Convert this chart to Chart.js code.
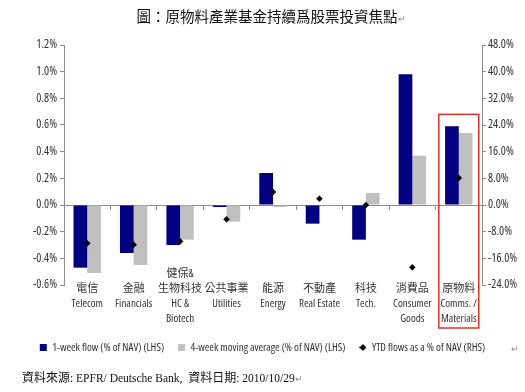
<!DOCTYPE html>
<html>
<head>
<meta charset="utf-8">
<script src="https://cdn.jsdelivr.net/npm/chart.js@4.4.0/dist/chart.umd.min.js"></script>
<style>
  body { margin: 0; background: #fff; }
  #wrap { position: relative; width: 525px; height: 392px; overflow: hidden; }
  #chart { position: absolute; left: 0; top: 0; }
  .title { position: absolute; left: 0; width: 542px; top: 5px; text-align: center;
           font: 14.5px "Noto Sans CJK TC", sans-serif; color: #111; }
  .footer { position: absolute; left: 22px; top: 368px;
            font: 12px "Noto Sans CJK TC", serif; color: #111; }
  .footer .lat { font: 11.5px "Liberation Serif", serif; }
  .mark { font-size: 9px; color: #888; }
  .mark2 { position: absolute; left: 511px; top: 344px; font-size: 9px; color: #888; }
</style>
</head>
<body>
<div id="wrap">
  <canvas id="chart" width="525" height="392"></canvas>
  <div class="title">圖：原物料產業基金持續爲股票投資焦點<span class="mark">↵</span></div>
  <div class="mark2">↵</div>
  <div class="footer">資料來源<span class="lat">: EPFR/ Deutsche Bank,&nbsp; </span>資料日期<span class="lat">: 2010/10/29</span><span class="mark">↵</span></div>
</div>
<script>
// sector labels (Chinese / English), first line left empty unless needed
const categories = [
    ['', '電信', 'Telecom'],
    ['', '金融', 'Financials'],
    ['健保&', '生物科技', 'HC &', 'Biotech'],
    ['', '公共事業', 'Utilities'],
    ['', '能源', 'Energy'],
    ['', '不動產', 'Real Estate'],
    ['', '科技', 'Tech.'],
    ['', '消費品', 'Consumer', 'Goods'],
    ['', '原物料', 'Comms. /', 'Materials']
];

// % of NAV (LHS)
const weekFlow = [-0.47, -0.36, -0.30, -0.015, 0.24, -0.14, -0.26, 0.98, 0.59];
const fourWeekAvg = [-0.51, -0.45, -0.26, -0.125, -0.015, -0.005, 0.09, 0.37, 0.54];
// YTD flows % of NAV (RHS)
const ytdFlows = [-11.5, -11.9, -10.9, -4.3, 3.9, 1.9, 0.0, -18.7, 8.1];

const seriesNames = [
    '1-week flow (% of NAV) (LHS)',
    '4-week moving average (% of NAV) (LHS)',
    'YTD flows as a % of NAV (RHS)'
];

const highlightIndex = 8;   // Materials
const highlightTop = 0.68;  // LHS value of the box top

// condensed Open Sans stands in for Arial Narrow
const narrow = '"Open Sans", "Noto Sans CJK TC", sans-serif';
const axisGray = '#8c8c8c';

// small diamond for the legend
const diamond = document.createElement('canvas');
diamond.width = 7;
diamond.height = 7;
(function () {
    const c = diamond.getContext('2d');
    c.fillStyle = '#000';
    c.beginPath();
    c.moveTo(3.5, 0); c.lineTo(7, 3.5); c.lineTo(3.5, 7); c.lineTo(0, 3.5);
    c.closePath();
    c.fill();
})();

// red box round the highlighted sector
const highlightBox = {
    id: 'highlightBox',
    afterDraw(chart) {
        const x = chart.scales.x;
        const y = chart.scales.y;
        const half = (x.getPixelForValue(1) - x.getPixelForValue(0)) * 0.43;
        const cx = x.getPixelForValue(highlightIndex);
        const top = y.getPixelForValue(highlightTop);
        const bottom = x.bottom;
        const ctx = chart.ctx;
        ctx.save();
        ctx.strokeStyle = '#e0302c';
        ctx.lineWidth = 1.5;
        ctx.strokeRect(cx - half, top, half * 2, bottom - top);
        ctx.restore();
    }
};

new Chart(document.getElementById('chart'), {
    type: 'bar',
    data: {
        labels: categories,
        datasets: [
            {
                label: seriesNames[0],
                data: weekFlow,
                backgroundColor: '#000080',
                pointStyle: 'rect',
                yAxisID: 'y',
                order: 1
            },
            {
                label: seriesNames[1],
                data: fourWeekAvg,
                backgroundColor: '#c0c0c0',
                pointStyle: 'rect',
                yAxisID: 'y',
                order: 1
            },
            {
                type: 'line',
                label: seriesNames[2],
                data: ytdFlows,
                showLine: false,
                pointStyle: 'rectRot',
                pointRadius: 3,
                borderWidth: 0.5,
                backgroundColor: '#000',
                borderColor: '#000',
                yAxisID: 'y1',
                order: 0
            }
        ]
    },
    options: {
        responsive: false,
        animation: false,
        datasets: {
            bar: { barPercentage: 1.0, categoryPercentage: 0.59 }
        },
        layout: { padding: { top: 45, left: 0, right: 0, bottom: 29 } },
        plugins: {
            tooltip: { enabled: false },
            legend: {
                position: 'bottom',
                labels: {
                    usePointStyle: true,
                    boxWidth: 7,
                    boxHeight: 7,
                    padding: 14,
                    color: '#333',
                    font: { family: narrow, weight: 'condensed', size: 11 },
                    sort: (a, b) => a.datasetIndex - b.datasetIndex,
                    generateLabels: chart => {
                        const items = Chart.defaults.plugins.legend.labels.generateLabels(chart);
                        items.forEach(it => { if (it.datasetIndex === 2) it.pointStyle = diamond; });
                        return items;
                    }
                }
            }
        },
        scales: {
            x: {
                type: 'category',
                position: 'bottom',
                grid: { display: false, drawTicks: false },
                border: { display: false },
                ticks: {
                    // mirror keeps the first label line from being clipped above the axis
                    mirror: true,
                    padding: 3.5,
                    maxRotation: 0,
                    autoSkip: false,
                    color: '#333',
                    font: { family: narrow, weight: 'condensed', size: 11, lineHeight: 15 / 11 }
                },
                afterFit: s => { s.height = 43; }
            },
            xZero: {
                type: 'category',
                axis: 'x',
                position: { y: 0 },
                offset: true,
                grid: { display: true, offset: true, drawOnChartArea: false, tickLength: 4, color: axisGray },
                border: { display: true, color: axisGray },
                ticks: { display: false }
            },
            y: {
                position: 'left',
                min: -0.6,
                max: 1.2,
                grid: { drawOnChartArea: false, tickLength: 4, color: axisGray },
                border: { color: axisGray },
                ticks: {
                    stepSize: 0.2,
                    padding: 3,
                    color: '#333',
                    font: { family: narrow, weight: 'condensed', size: 12 },
                    callback: v => v.toFixed(1) + '%'
                },
                afterFit: s => { s.width = 64; }
            },
            y1: {
                position: 'right',
                min: -24,
                max: 48,
                grid: { drawOnChartArea: false, tickLength: 4, color: axisGray },
                border: { color: axisGray },
                ticks: {
                    stepSize: 8,
                    padding: 2,
                    color: '#333',
                    font: { family: narrow, weight: 'condensed', size: 12 },
                    callback: v => v.toFixed(1) + '%'
                },
                afterFit: s => { s.width = 43; }
            }
        }
    },
    plugins: [highlightBox]
});
</script>
</body>
</html>
